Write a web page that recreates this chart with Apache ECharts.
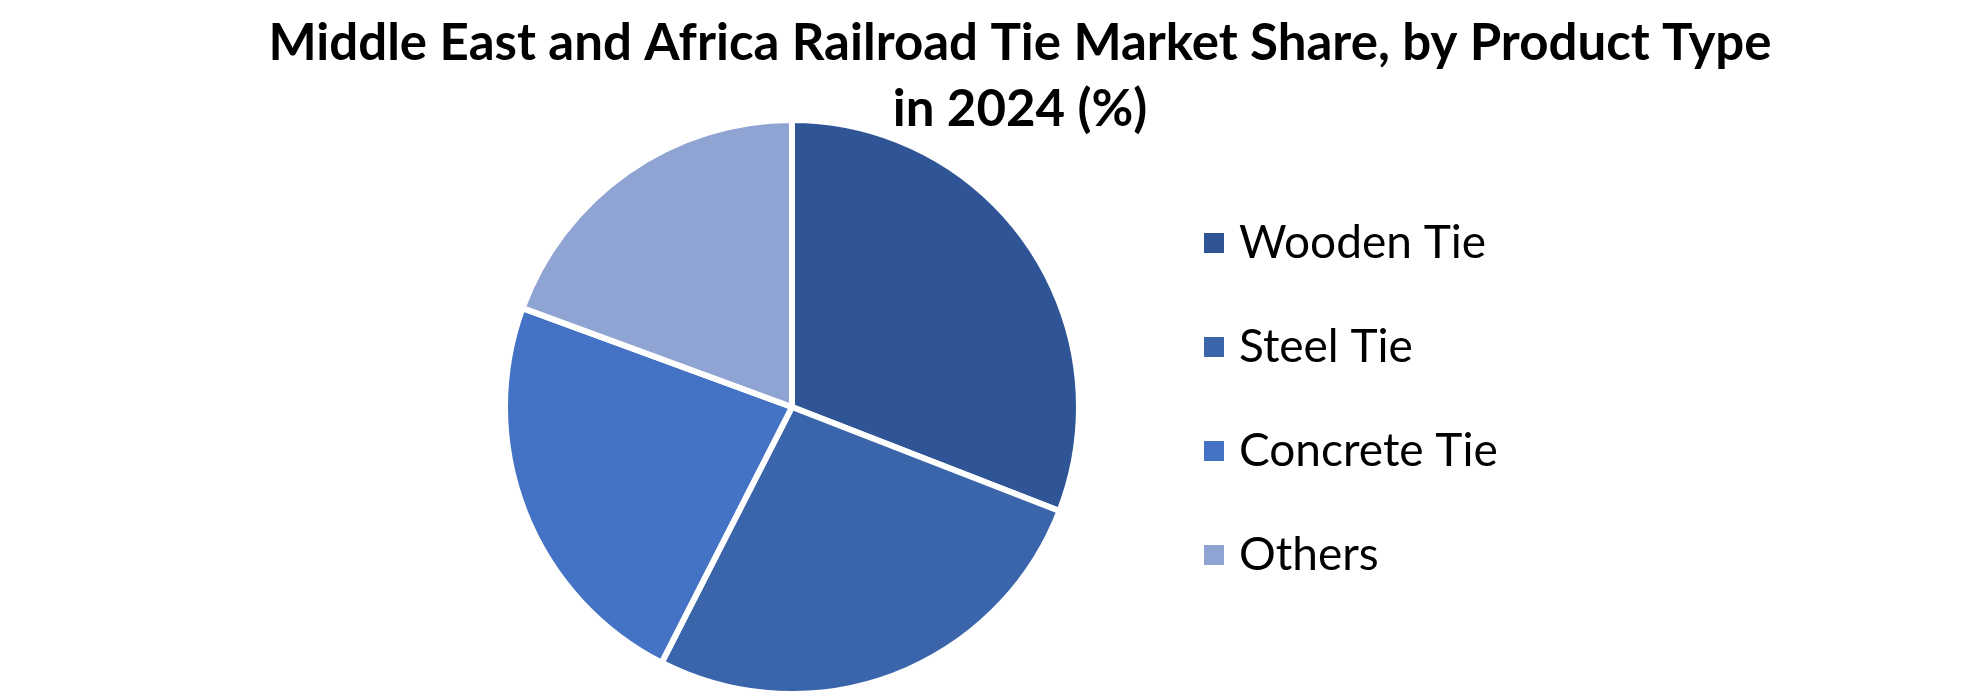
<!DOCTYPE html>
<html>
<head>
<meta charset="utf-8">
<script src="https://cdn.jsdelivr.net/npm/echarts@6/dist/echarts.min.js"></script>
<style>
  html, body { margin: 0; padding: 0; background: #fff; }
  #chart { width: 1980px; height: 694px; }
</style>
</head>
<body>
<div id="chart"></div>
<script>
// market share by product type, 2024 (%)
const productTypes = ['Wooden Tie', 'Steel Tie', 'Concrete Tie', 'Others'];
const shareValues = [30.9, 26.6, 23.1, 19.4];
const sliceColors = ['#2F5597', '#3A65AA', '#4472C4', '#8FA4D3'];

const titleLines = ['Middle East and Africa Railroad Tie Market Share, by Product Type', 'in 2024 (%)'];

let chart = echarts.init(document.getElementById('chart'));
chart.setOption({
    backgroundColor: '#fff',
    title: {
        text: titleLines.join('\n'),
        left: 1020,
        top: 11,
        padding: 0,
        textAlign: 'center',
        textStyle: {
            fontFamily: 'Lato',
            fontWeight: 'bold',
            fontSize: 51,
            lineHeight: 66,
            color: '#000'
        }
    },
    legend: {
        orient: 'vertical',
        left: 1204,
        top: 218,
        padding: 0,
        icon: 'rect',
        itemWidth: 20,
        itemHeight: 20,
        itemGap: 54,
        itemStyle: { borderWidth: 0 },
        data: productTypes,
        textStyle: {
            fontFamily: 'Lato',
            fontSize: 46,
            lineHeight: 50,
            color: '#000',
            padding: [0, 0, 0, 10]
        }
    },
    series: [{
        type: 'pie',
        center: [792, 407],
        radius: 287,
        startAngle: 90,
        clockwise: true,
        label: { show: false },
        labelLine: { show: false },
        emphasis: { disabled: true },
        itemStyle: { borderColor: '#fff', borderWidth: 6 },
        data: productTypes.map(function (name, i) {
            return { name: name, value: shareValues[i], itemStyle: { color: sliceColors[i] } };
        })
    }]
});
</script>
</body>
</html>
